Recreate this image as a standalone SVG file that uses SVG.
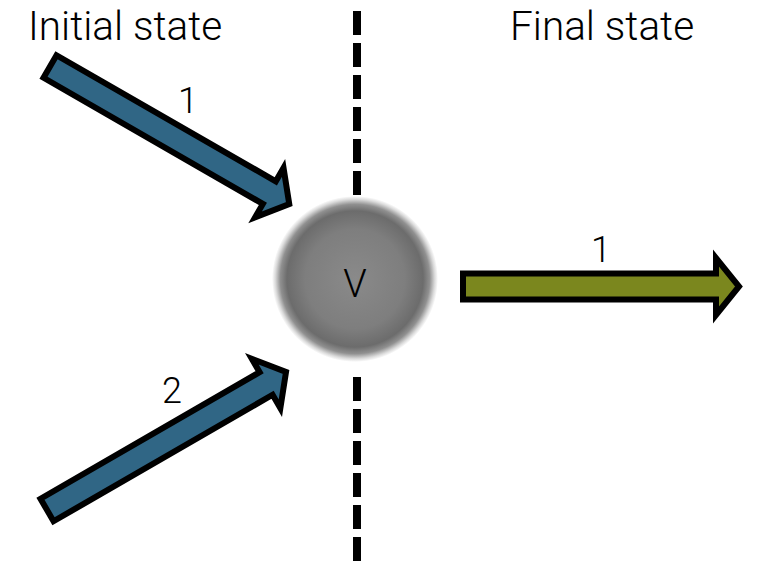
<svg xmlns="http://www.w3.org/2000/svg" xmlns:xlink="http://www.w3.org/1999/xlink" width="757" height="565" viewBox="0 0 757 565">
<style>
  .lbl { font-family: Roboto, "Liberation Sans", sans-serif; font-weight: 300; fill: #000; }
  .title { font-size: 40.5px; }
  .num { font-size: 36px; text-anchor: middle; }
  .arrow { stroke: #000; stroke-width: 6; stroke-linejoin: miter; stroke-miterlimit: 10; }
  .blue { fill: #306685; }
  .green { fill: #7b871e; }
  .divider { stroke: #000; stroke-width: 8; stroke-dasharray: 24 8; fill: none; }
</style>
<defs>
  <path id="arrowShape" d="M0,-13 H253 V-28.5 L276,0 L253,28.5 V13 H0 Z"/>
  <radialGradient id="blob" cx="0.5" cy="0.5" r="0.5">
    <stop offset="0" stop-color="#8a8a8a"/>
    <stop offset="0.6" stop-color="#7e7e7e"/>
    <stop offset="0.82" stop-color="#6c6c6c"/>
    <stop offset="0.9" stop-color="#909090"/>
    <stop offset="0.96" stop-color="#dadada"/>
    <stop offset="1" stop-color="#ffffff"/>
  </radialGradient>
</defs>
<rect width="757" height="565" fill="#fff"/>
<g id="connectors">
  <line class="divider" x1="357" y1="11" x2="357" y2="196"/>
  <line class="divider" x1="357" y1="377" x2="357" y2="562"/>
</g>
<g id="vertex">
  <circle cx="355" cy="279" r="83" fill="url(#blob)"/>
  <text class="lbl num" x="355" y="297" style="font-size:38px">V</text>
</g>
<g id="incoming1">
  <use xlink:href="#arrowShape" class="arrow blue" transform="translate(50,66.5) rotate(29.9)"/>
  <text class="lbl num" x="188" y="113">1</text>
</g>
<g id="incoming2">
  <use xlink:href="#arrowShape" class="arrow blue" transform="translate(47,510) rotate(-30)"/>
  <text class="lbl num" x="172" y="403">2</text>
</g>
<g id="outgoing1">
  <use xlink:href="#arrowShape" class="arrow green" transform="translate(463,286.5)"/>
  <text class="lbl num" x="601" y="262">1</text>
</g>
<g id="titles">
  <text class="lbl title" x="28" y="40">Initial state</text>
  <text class="lbl title" x="510" y="40">Final state</text>
</g>
</svg>
